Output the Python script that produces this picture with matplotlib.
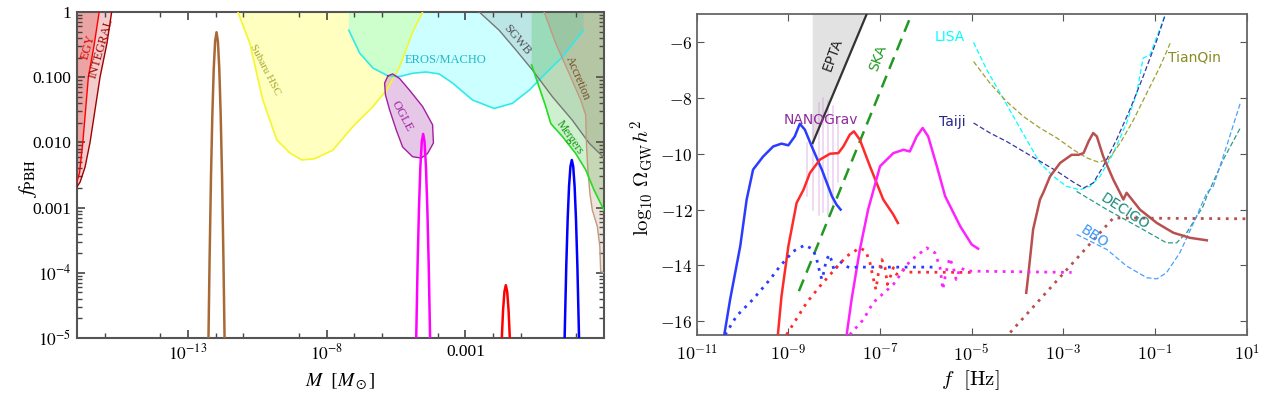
import numpy as np
import matplotlib
matplotlib.use("Agg")
import matplotlib.pyplot as plt

# ---------------- left panel: f_PBH constraints (log10 M, log10 f) ----------------
integral_logM = [-15.75, -15.92, -16.17, -16.35, -16.53, -16.71, -16.89, -17.0]
integral_logf = [0.0, -0.48, -1.0, -1.5, -2.0, -2.38, -2.61, -2.68]

egy_logM = [-16.2, -16.38, -16.59, -16.79, -16.91, -17.0]
egy_logf = [0.0, -0.5, -1.0, -2.0, -2.47, -2.6]

subaru_logM = [-11.2, -10.77, -10.3, -9.8, -9.33, -8.9, -8.43, -7.78, -7.06, -6.35, -5.84, -5.37, -4.91, -4.54]
subaru_logf = [0.0, -0.48, -1.35, -1.96, -2.16, -2.27, -2.25, -2.12, -1.76, -1.46, -1.2, -0.84, -0.32, 0.0]

eros_logM = [-7.2, -6.81, -6.33, -5.79, -5.37, -4.9, -4.41, -3.94, -3.46, -2.74, -1.96, -1.3, -0.7, -0.1, 0.5, 0.98, 1.26]
eros_logf = [-0.28, -0.63, -0.86, -0.98, -0.99, -0.94, -0.92, -0.95, -1.09, -1.35, -1.48, -1.4, -1.2, -0.94, -0.69, -0.43, -0.28]

ogle_logM = [-5.79, -5.62, -5.37, -5.01, -4.54, -4.18, -4.15, -4.36, -4.59, -4.9, -5.26, -5.49, -5.73, -5.88, -5.91, -5.79]
ogle_logf = [-0.98, -0.95, -1.02, -1.2, -1.45, -1.73, -2.01, -2.17, -2.24, -2.22, -2.07, -1.81, -1.5, -1.27, -1.09, -0.98]

sgwb_logM = [-2.5, -1.78, -1.18, -0.58, 0.14, 0.86, 1.46, 1.94, 2.0]
sgwb_logf = [0.0, -0.28, -0.58, -0.89, -1.3, -1.66, -2.01, -2.21, -2.24]

accretion_logM = [-0.16, 0.26, 0.74, 1.16, 1.34, 1.36, 1.41, 1.49, 1.58, 1.76, 1.85, 1.88, 2.0]
accretion_logf = [0.0, -0.48, -0.94, -1.35, -1.58, -1.96, -2.37, -2.78, -3.04, -3.29, -3.6, -3.98, -4.0]

mergers_logM = [-0.61, -0.34, -0.1, 0.08, 0.5, 0.98, 1.34, 1.64, 2.0]
mergers_logf = [-0.81, -1.15, -1.45, -1.71, -1.91, -2.17, -2.42, -2.73, -3.04]

# mass-function peaks
brown_peak_logM = [-12.26, -12.22, -12.17, -12.12, -12.07, -12.02, -11.97, -11.92, -11.87, -11.82, -11.77, -11.72, -11.68]
brown_peak_logf = [-5.0, -3.8, -2.54, -1.57, -0.87, -0.45, -0.31, -0.45, -0.87, -1.57, -2.54, -3.8, -5.0]
magenta_peak_logM = [-4.77, -4.72, -4.67, -4.62, -4.57, -4.52, -4.47, -4.42, -4.37, -4.32, -4.27]
magenta_peak_logf = [-5.0, -3.87, -3.0, -2.37, -1.99, -1.87, -1.99, -2.37, -3.0, -3.87, -5.0]
red_peak_logM = [-1.684, -1.64, -1.59, -1.54, -1.49, -1.44, -1.396]
red_peak_logf = [-5.0, -4.58, -4.29, -4.19, -4.29, -4.58, -5.0]
blue_peak_logM = [0.58, 0.64, 0.69, 0.74, 0.79, 0.84, 0.89, 0.94, 0.99, 1.04, 1.10]
blue_peak_logf = [-5.0, -3.89, -3.18, -2.67, -2.37, -2.27, -2.37, -2.67, -3.18, -3.89, -5.0]

left_yticks = [1e-5, 1e-4, 1e-3, 1e-2, 1e-1, 1]
left_yticklabels = [r"$10^{-5}$", r"$10^{-4}$", "0.001", "0.010", "0.100", "1"]
left_xticks = [1e-13, 1e-8, 1e-3]
left_xticklabels = [r"$10^{-13}$", r"$10^{-8}$", "0.001"]
left_xminor_exp = [-16, -14, -12, -11, -9, -7, -6, -4, -2, -1, 1]

# ---------------- right panel: GW spectra (log10 f, log10 Omega h^2) ----------------
epta_logf = [-8.47, -7.29]
epta_logO = [-9.62, -5.0]
ska_logf = [-8.77, -6.31]
ska_logO = [-14.92, -5.0]

nanograv_logf = [-8.60, -8.46, -8.33, -8.24, -8.13, -8.02, -7.91]
nanograv_top = [-9.6, -8.6, -8.2, -8.0, -8.1, -8.3, -8.8]
nanograv_bot = [-11.5, -12.0, -12.2, -12.1, -12.2, -11.8, -11.0]

blue_logf = [-10.40, -10.27, -10.05, -9.91, -9.77, -9.55, -9.33, -9.15, -9.0, -8.86, -8.75, -8.64, -8.49, -8.27, -8.05, -7.95, -7.86]
blue_logO = [-16.5, -15.21, -13.31, -11.64, -10.57, -10.10, -9.74, -9.64, -9.70, -9.38, -8.93, -9.14, -9.74, -10.57, -11.52, -11.82, -12.0]

red_logf = [-9.23, -9.15, -9.0, -8.82, -8.67, -8.53, -8.31, -8.09, -7.91, -7.80, -7.66, -7.57, -7.44, -7.22, -6.93, -6.71, -6.61]
red_logO = [-16.5, -15.1, -13.31, -11.76, -11.29, -10.69, -10.21, -10.0, -9.98, -9.74, -9.32, -9.20, -9.5, -10.45, -11.64, -12.18, -12.48]

magenta_logf = [-7.73, -7.62, -7.44, -7.26, -7.0, -6.71, -6.49, -6.35, -6.20, -6.07, -5.95, -5.76, -5.58, -5.25, -5.0, -4.86]
magenta_logO = [-16.5, -15.21, -13.43, -12.0, -10.45, -9.98, -9.86, -9.92, -9.38, -9.08, -9.38, -10.45, -11.52, -12.6, -13.25, -13.4]

brown_logf = [-3.81, -3.76, -3.66, -3.51, -3.44, -3.29, -3.07, -2.82, -2.67, -2.56, -2.45, -2.35, -2.27, -2.13, -1.91, -1.69, -1.62, -1.33, -0.96, -0.60, -0.24, 0.13]
brown_logO = [-14.98, -14.26, -12.71, -11.64, -11.40, -10.81, -10.33, -10.04, -10.04, -9.98, -9.56, -9.26, -9.38, -10.10, -10.93, -11.64, -11.40, -12.0, -12.48, -12.83, -13.01, -13.10]

blue_dot_logf = [-10.38, -10.13, -9.77, -9.40, -9.18, -8.89, -8.64, -8.46, -8.38, -8.33, -8.27, -8.22, -8.18, -8.11, -8.05, -8.0, -7.93, -7.87, -7.76, -7.66, -7.51, -5.80]
blue_dot_logO = [-16.48, -15.81, -15.21, -14.5, -14.02, -13.49, -13.27, -13.43, -13.79, -14.14, -14.5, -14.20, -13.85, -13.61, -13.85, -14.20, -14.02, -13.85, -14.02, -14.08, -14.06, -14.06]

red_dot_logf = [-9.04, -8.60, -8.31, -8.02, -7.73, -7.44, -7.31, -7.22, -7.15, -7.09, -7.04, -6.96, -6.89, -6.84, -6.77, -6.71, -6.64, -6.53, -6.38, -4.90]
red_dot_logO = [-16.48, -15.33, -14.74, -14.20, -13.67, -13.37, -13.49, -13.90, -14.44, -14.86, -14.32, -13.79, -14.08, -14.68, -14.38, -14.08, -14.32, -14.14, -14.24, -14.25]

magenta_dot_logf = [-7.66, -7.36, -7.15, -6.71, -6.35, -5.98, -5.80, -5.69, -5.63, -5.57, -5.48, -5.40, -5.34, -5.25, -5.11, -2.82]
magenta_dot_logO = [-16.48, -15.93, -15.33, -14.68, -13.85, -13.37, -13.55, -14.08, -14.86, -14.32, -13.73, -14.08, -14.5, -14.08, -14.20, -14.25]

brown_dot_logf = [-4.16, -1.91, 1.0]
brown_dot_logO = [-16.40, -12.30, -12.33]

lisa_logf = [-4.96, -4.67, -4.38, -4.09, -3.80, -3.51, -3.22, -2.93, -2.64, -2.42, -2.20, -1.91, -1.62, -1.40, -1.26, -1.11, -0.96, -0.82, -0.78]
lisa_logO = [-6.02, -7.0, -7.83, -8.67, -9.5, -10.33, -10.81, -11.17, -11.29, -11.17, -10.81, -9.98, -8.90, -7.83, -6.58, -6.46, -5.81, -5.21, -5.04]

tianqin_logf = [-4.96, -4.60, -4.24, -3.87, -3.51, -3.14, -2.78, -2.49, -2.24, -2.02, -1.76, -1.47, -1.18, -0.89, -0.67]
tianqin_logO = [-6.70, -7.48, -8.13, -8.67, -9.08, -9.44, -9.86, -10.15, -10.30, -10.21, -9.62, -8.79, -7.83, -6.88, -6.05]

taiji_logf = [-4.96, -4.60, -4.24, -3.87, -3.51, -3.14, -2.78, -2.56, -2.35, -2.13, -1.84, -1.55, -1.26, -0.96, -0.78]
taiji_logO = [-8.90, -9.26, -9.56, -9.92, -10.27, -10.63, -11.02, -11.23, -11.05, -10.45, -9.5, -8.43, -7.24, -5.93, -5.04]

decigo_logf = [-2.71, -2.05, -1.33, -0.75, -0.53, -0.31, 0.05, 0.13, 0.49, 0.86]
decigo_logO = [-11.35, -12.0, -12.65, -13.19, -13.19, -12.83, -11.88, -11.52, -10.21, -9.08]

bbo_logf = [-2.71, -2.05, -1.62, -1.18, -0.96, -0.75, -0.46, -0.16, 0.13, 0.27, 0.56, 0.86]
bbo_logO = [-12.89, -13.43, -14.02, -14.44, -14.48, -14.26, -13.55, -12.48, -11.40, -11.17, -9.74, -8.19]

right_xticks = [1e-11, 1e-9, 1e-7, 1e-5, 1e-3, 1e-1, 1e1]
right_xticklabels = [r"$10^{-11}$", r"$10^{-9}$", r"$10^{-7}$", r"$10^{-5}$", r"$10^{-3}$", r"$10^{-1}$", r"$10^{1}$"]
right_yticks = [-16, -14, -12, -10, -8, -6]


def p(v):
    return 10.0 ** np.array(v)


fig = plt.figure(figsize=(12.68, 3.95), dpi=100)
serif = "Liberation Serif"

# ====================== left panel ======================
ax = fig.add_axes([77 / 1268, 57 / 395, 527 / 1268, 326 / 395])
ax.set_xscale("log")
ax.set_yscale("log")
ax.set_xlim(1e-17, 1e2)
ax.set_ylim(1e-5, 1)

# fills
ax.fill(p(integral_logM + [-17.0]), p(integral_logf + [0.0]), color="#f3cdcd", lw=0, zorder=1)
ax.fill(p(egy_logM + [-17.0]), p(egy_logf + [0.0]), color="#eba3a3", lw=0, zorder=1.1)
ax.fill(p(subaru_logM), p(subaru_logf), color="yellow", alpha=0.25, lw=0, zorder=1)
ax.fill(p([-7.2] + eros_logM + [1.26]), p([0.0] + eros_logf + [0.0]), color="cyan", alpha=0.2, lw=0, zorder=1.2)
ax.fill(p(ogle_logM), p(ogle_logf), color="#a020a0", alpha=0.25, lw=0, zorder=1.3)
ax.fill(p(sgwb_logM + [2.0]), p(sgwb_logf + [0.0]), color="gray", alpha=0.2, lw=0, zorder=1.4)
ax.fill(p([-0.61] + mergers_logM + [2.0]), p([0.0] + mergers_logf + [0.0]), color="#22bb22", alpha=0.22, lw=0, zorder=1.5)
ax.fill(p(accretion_logM + [2.0]), p(accretion_logf + [0.0]), color="#a06a40", alpha=0.18, lw=0, zorder=1.6)

# boundaries
ax.plot(p(integral_logM), p(integral_logf), color="#a00000", lw=1.0, zorder=3)
ax.plot(p(egy_logM), p(egy_logf), color="red", lw=1.0, zorder=3)
ax.plot(p(subaru_logM), p(subaru_logf), color="#f5f530", lw=1.2, zorder=3)
ax.plot(p(eros_logM), p(eros_logf), color="#30eaea", lw=1.2, zorder=3)
ax.plot(p(ogle_logM), p(ogle_logf), color="#a020a0", lw=1.0, zorder=3)
ax.plot(p(sgwb_logM), p(sgwb_logf), color="#777777", lw=1.0, zorder=3)
ax.plot(p(accretion_logM), p(accretion_logf), color="#c09a80", lw=1.0, zorder=3)
ax.plot(p(mergers_logM), p(mergers_logf), color="#22dd22", lw=1.2, zorder=3)

# peaks
ax.plot(p(brown_peak_logM), p(brown_peak_logf), color="#a86a35", lw=1.8, zorder=4)
ax.plot(p(magenta_peak_logM), p(magenta_peak_logf), color="magenta", lw=1.8, zorder=4)
ax.plot(p(red_peak_logM), p(red_peak_logf), color="red", lw=1.8, zorder=4)
ax.plot(p(blue_peak_logM), p(blue_peak_logf), color="blue", lw=1.8, zorder=4)

# labels
lk = dict(family=serif, ha="center", va="center", zorder=5)
ax.text(p(-16.6), p(-0.53), "EGY", color="#e00000", rotation=74, fontsize=9, **lk)
ax.text(p(-16.11), p(-0.55), "INTEGRAL", color="#a00000", rotation=74, fontsize=9, **lk)
ax.text(p(-10.23), p(-0.89), "Subaru HSC", color="#a8a830", rotation=-63, fontsize=8, **lk)
ax.text(p(-3.72), p(-0.74), "EROS/MACHO", color="#20b8c8", fontsize=9, **lk)
ax.text(p(-5.27), p(-1.6), "OGLE", color="#a020a0", rotation=-62, fontsize=9, **lk)
ax.text(p(-1.15), p(-0.42), "SGWB", color="#555555", rotation=-50, fontsize=9, **lk)
ax.text(p(1.06), p(-1.01), "Accretion", color="#7a4a2a", rotation=-67, fontsize=8.5, **lk)
ax.text(p(0.78), p(-1.93), "Mergers", color="#119911", rotation=-55, fontsize=8.5, **lk)

ax.set_yticks(left_yticks, left_yticklabels, family=serif, fontsize=12.5, math_fontfamily="stix")
ax.set_xticks(left_xticks, left_xticklabels, family=serif, fontsize=12.5, math_fontfamily="stix")
ax.set_xticks(p(left_xminor_exp), minor=True)
ax.xaxis.set_minor_formatter(matplotlib.ticker.NullFormatter())
ax.yaxis.set_minor_locator(matplotlib.ticker.LogLocator(base=10, subs=np.arange(2, 10), numticks=20))
ax.yaxis.set_minor_formatter(matplotlib.ticker.NullFormatter())
ax.tick_params(which="both", direction="in", top=True, right=True, color="#444444")
ax.tick_params(which="major", length=6, width=1.2, pad=4)
ax.tick_params(which="minor", length=3.5, width=1.0)
for s in ax.spines.values():
    s.set_color("#555555")
    s.set_linewidth(1.5)

fig.text(28 / 1268, 1 - 178 / 395, r"$f_{\rm PBH}$", rotation=90, ha="center", va="center",
         fontsize=15, math_fontfamily="stix")
fig.text(340 / 1268, 1 - 382 / 395, r"$M\ \ [M_\odot]$", ha="center", va="center",
         fontsize=14, math_fontfamily="stix")

# ====================== right panel ======================
bx = fig.add_axes([696.7 / 1268, 59.7 / 395, 550 / 1268, 321.3 / 395])
bx.set_xscale("log")
bx.set_xlim(1e-11, 1e1)
bx.set_ylim(-16.5, -5)

bx.fill(p([epta_logf[0], epta_logf[1], epta_logf[0]]), [epta_logO[0], epta_logO[1], -5.0],
        color="#e2e2e2", lw=0, zorder=1)
bx.plot(p(epta_logf), epta_logO, color="#333333", lw=1.6, zorder=3)
bx.plot(p(ska_logf), ska_logO, color="#229922", lw=1.8, ls=(0, (5, 3)), zorder=3)
for xf, t, b in zip(nanograv_logf, nanograv_top, nanograv_bot):
    bx.plot([10 ** xf, 10 ** xf], [b, t], color="#c88ad8", alpha=0.4, lw=1.1, zorder=2)

bx.plot(p(blue_logf), blue_logO, color="#2a3cff", lw=1.8, zorder=4)
bx.plot(p(red_logf), red_logO, color="#ff2a2a", lw=1.8, zorder=4)
bx.plot(p(magenta_logf), magenta_logO, color="#ff22ff", lw=1.8, zorder=4)
bx.plot(p(brown_logf), brown_logO, color="#b85050", lw=1.8, zorder=4)

dot = (0, (1, 2))
bx.plot(p(blue_dot_logf), blue_dot_logO, color="#2a3cff", lw=2, ls=dot, zorder=4)
bx.plot(p(red_dot_logf), red_dot_logO, color="#ff2a2a", lw=2, ls=dot, zorder=4)
bx.plot(p(magenta_dot_logf), magenta_dot_logO, color="#ff22ff", lw=2, ls=dot, zorder=4)
bx.plot(p(brown_dot_logf), brown_dot_logO, color="#b85050", lw=2, ls=dot, zorder=4)

dk = dict(lw=0.9, ls=(0, (4, 2)), zorder=3)
bx.plot(p(lisa_logf), lisa_logO, color="cyan", **dk)
bx.plot(p(tianqin_logf), tianqin_logO, color="#a0a030", **dk)
bx.plot(p(taiji_logf), taiji_logO, color="#3535a5", **dk)
bx.plot(p(decigo_logf), decigo_logO, color="#2a9a8a", **dk)
bx.plot(p(bbo_logf), bbo_logO, color="#4aa0ff", **dk)

tk = dict(family="DejaVu Sans", ha="center", va="center", fontsize=10, zorder=5)
bx.text(p(-5.47), -5.82, "LISA", color="cyan", **tk)
bx.text(p(-0.15), -6.54, "TianQin", color="#8a8a20", **tk)
bx.text(p(-5.43), -8.86, "Taiji", color="#26268f", **tk)
bx.text(p(-8.29), -8.79, "NANOGrav", color="#8e2a9a", **tk)
bx.text(p(-8.03), -6.46, "EPTA", color="#222222", rotation=70, **tk)
bx.text(p(-7.04), -6.57, "SKA", color="#229922", rotation=70, **tk)
bx.text(p(-1.65), -12.07, "DECIGO", color="#1a8a7a", rotation=-33, **tk)
bx.text(p(-2.33), -12.96, "BBO", color="#3a95f5", rotation=-33, **tk)

bx.set_xticks(right_xticks, right_xticklabels, fontsize=13, math_fontfamily="cm")
bx.set_yticks(right_yticks, [r"$%d$" % v for v in right_yticks], fontsize=12.5, math_fontfamily="cm")
bx.xaxis.set_minor_locator(matplotlib.ticker.NullLocator())
bx.tick_params(which="both", direction="in", top=True, right=True, length=5, color="#555555")
bx.tick_params(axis="x", pad=6)
bx.tick_params(axis="y", pad=3)
for s in bx.spines.values():
    s.set_color("#666666")
    s.set_linewidth(1.3)

fig.text(643 / 1268, 1 - 178 / 395, r"$\log_{10}\,\Omega_{\rm GW}h^2$", rotation=90, ha="center",
         va="center", fontsize=15, math_fontfamily="cm")
fig.text(970 / 1268, 1 - 380 / 395, r"$f\ \ [{\rm Hz}]$", ha="center", va="center",
         fontsize=15, math_fontfamily="cm")

fig.savefig("out.png", dpi=100)
